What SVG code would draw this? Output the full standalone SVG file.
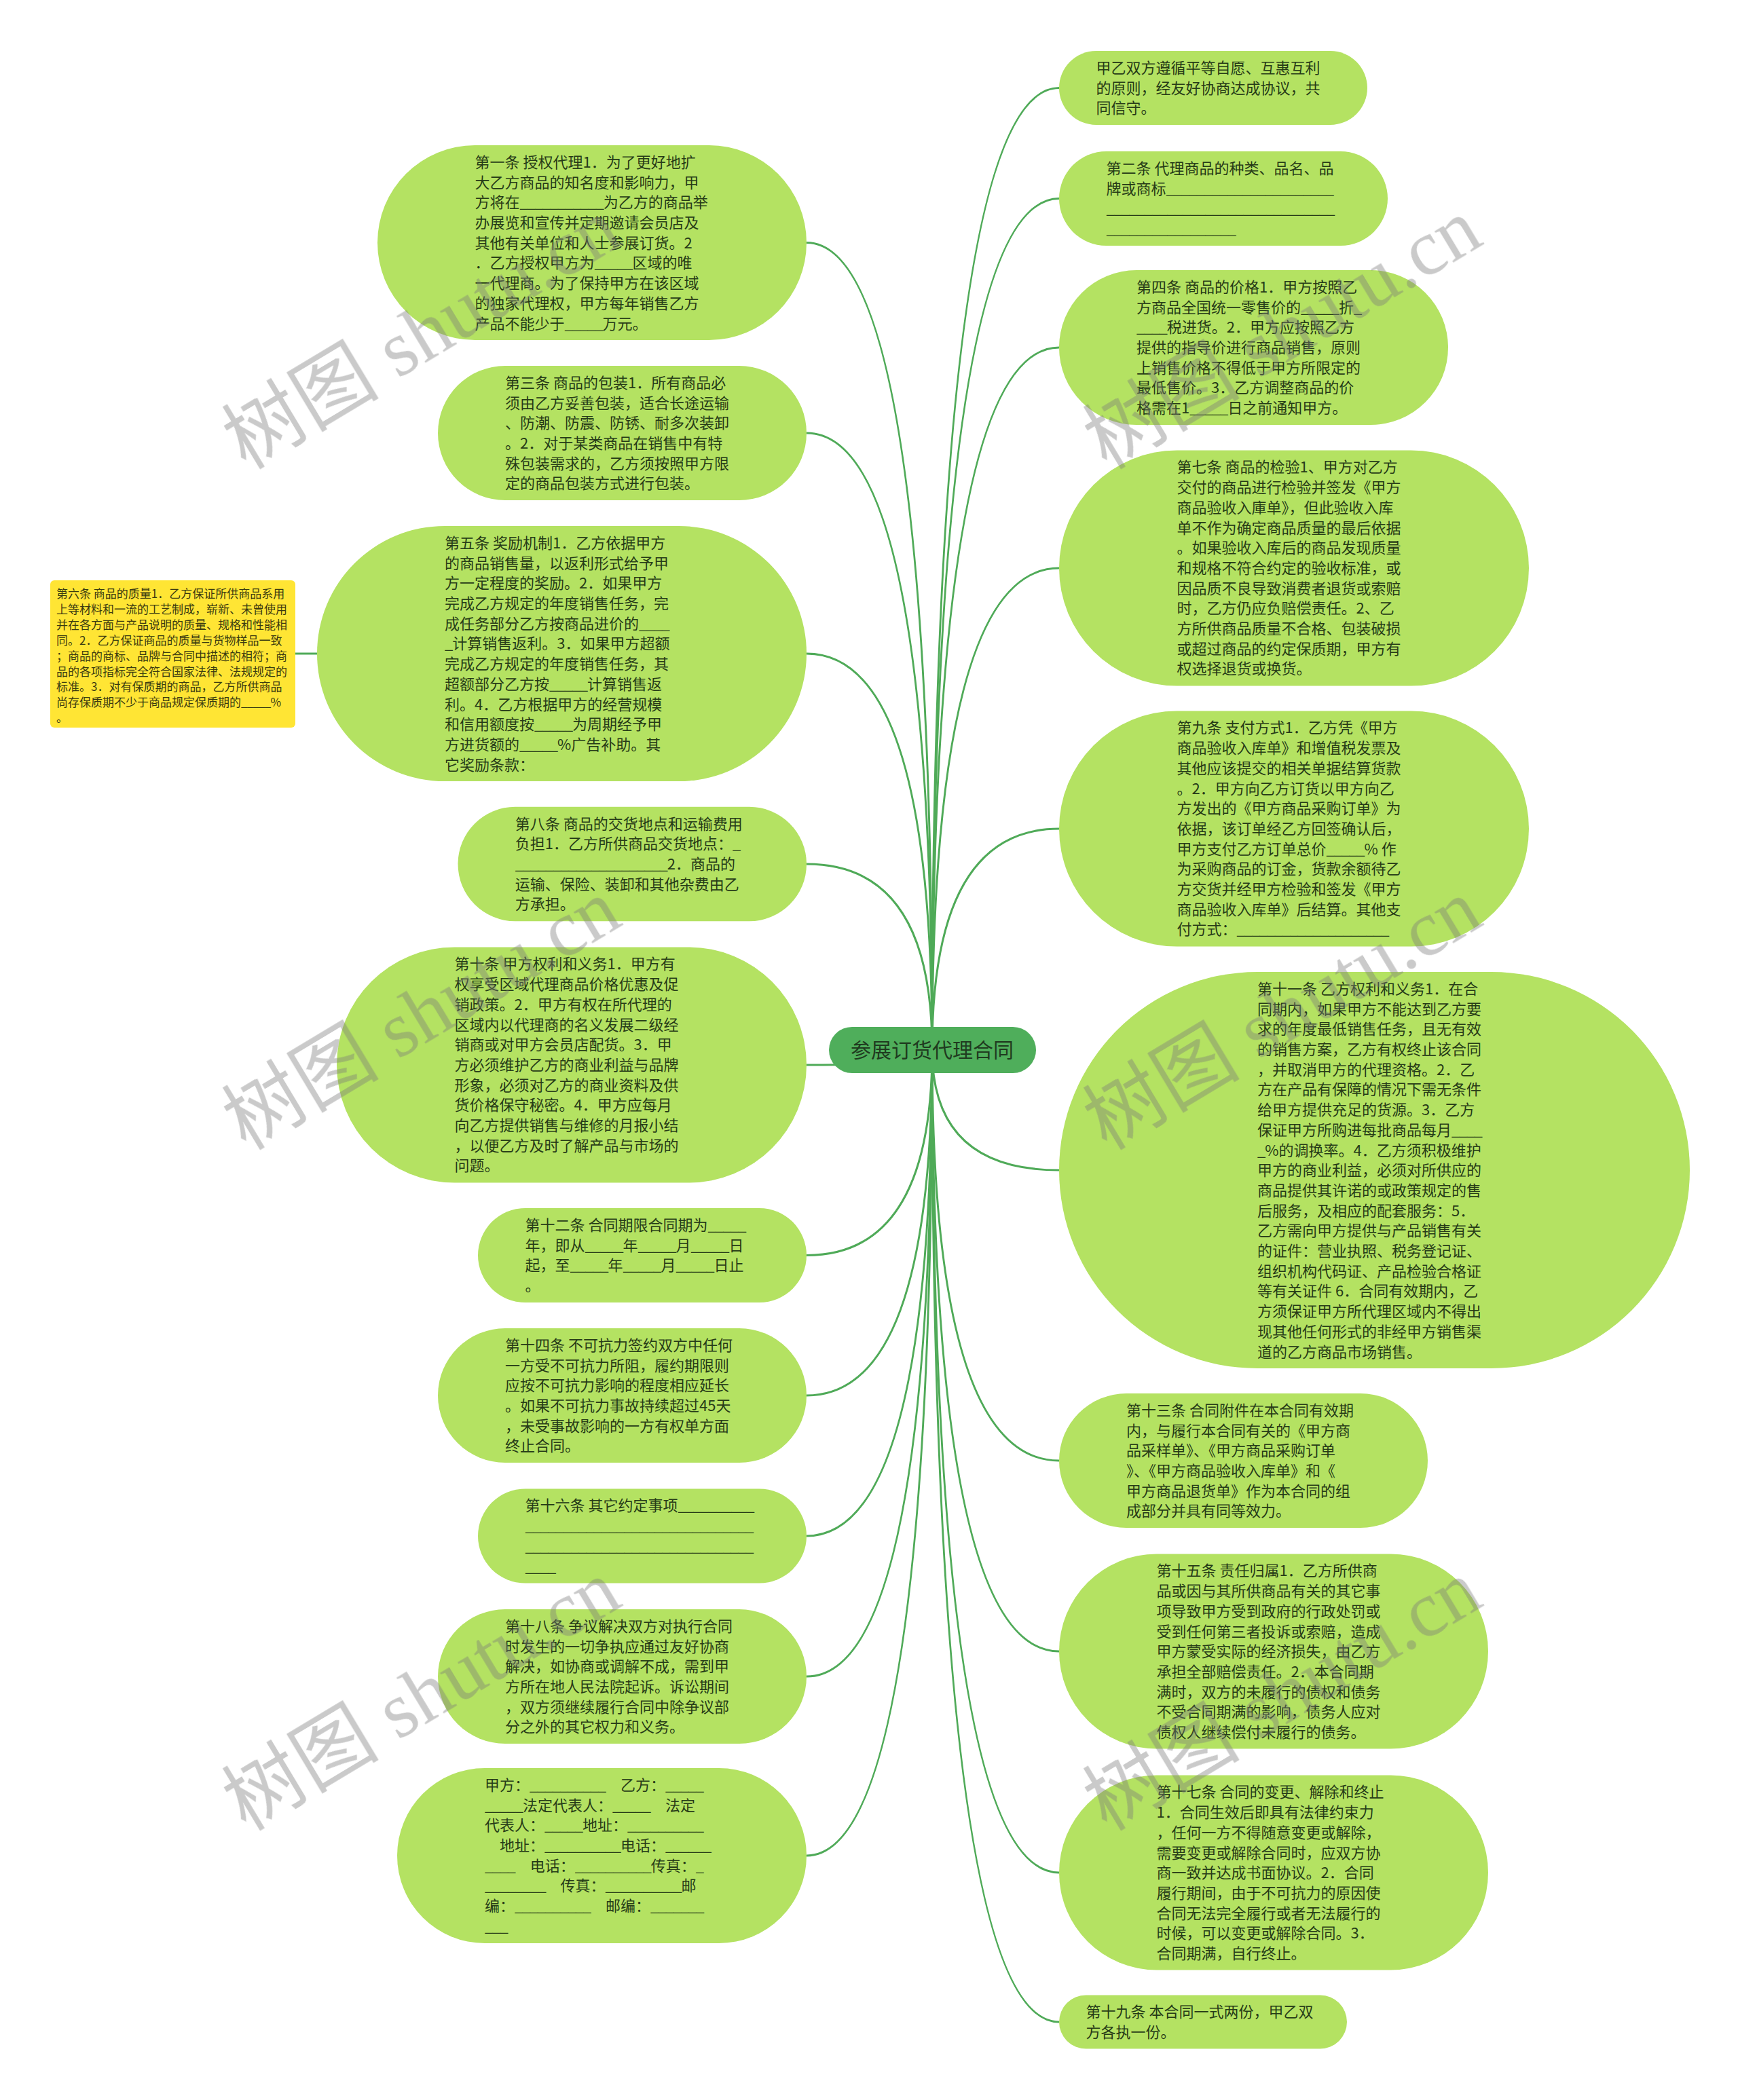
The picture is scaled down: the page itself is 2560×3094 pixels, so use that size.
<svg xmlns="http://www.w3.org/2000/svg" width="2560" height="3094" viewBox="0 0 2560 3094">
<defs>
<style>
.bg{fill:#ffffff}
.n{fill:#b4e262}
.y{fill:#ffe534}
.c{fill:#4fae5b}
.t{font-family:"Noto Sans CJK SC","Noto Sans",sans-serif;font-size:22px;fill:#263b17}
.ty{font-family:"Noto Sans CJK SC","Noto Sans",sans-serif;font-size:17px;fill:#3a3a10}
.tc{font-family:"Noto Sans CJK SC","Noto Sans",sans-serif;font-size:30px;fill:#1f3a1f}
.u{letter-spacing:-1.1px}
.uy{letter-spacing:-0.8px}
.e{fill:none;stroke:#4faa58;stroke-width:3}
.wm{font-size:116px;fill:#7a7a7a;opacity:0.4}
.wc{font-family:"Noto Sans CJK SC",sans-serif}
.ws{font-family:"Liberation Serif",serif}
</style>
</defs>
<rect class="bg" x="0" y="0" width="2560" height="3094"/>

<g id="connectors">
<path class="e" d="M1373 1547 Q1373 357.5 1188 357.5"/>
<path class="e" d="M1373 1547 Q1373 638 1188 638"/>
<path class="e" d="M1373 1547 Q1373 963 1188 963"/>
<path class="e" d="M1373 1547 Q1373 1273 1188 1273"/>
<path class="e" d="M1373 1547 Q1373 1569 1188 1569"/>
<path class="e" d="M1373 1547 Q1373 1849.5 1188 1849.5"/>
<path class="e" d="M1373 1547 Q1373 2056 1188 2056"/>
<path class="e" d="M1373 1547 Q1373 2263 1188 2263"/>
<path class="e" d="M1373 1547 Q1373 2470 1188 2470"/>
<path class="e" d="M1373 1547 Q1373 2734 1188 2734"/>
<path class="e" d="M1373 1547 Q1373 129.5 1560 129.5"/>
<path class="e" d="M1373 1547 Q1373 292.5 1560 292.5"/>
<path class="e" d="M1373 1547 Q1373 512 1560 512"/>
<path class="e" d="M1373 1547 Q1373 837 1560 837"/>
<path class="e" d="M1373 1547 Q1373 1221 1560 1221"/>
<path class="e" d="M1373 1547 Q1373 1724 1560 1724"/>
<path class="e" d="M1373 1547 Q1373 2152 1560 2152"/>
<path class="e" d="M1373 1547 Q1373 2433 1560 2433"/>
<path class="e" d="M1373 1547 Q1373 2759 1560 2759"/>
<path class="e" d="M1373 1547 Q1373 2979 1560 2979"/>
<path class="e" d="M435 963 L467 963"/>
</g>

<g id="root">
<rect class="c" x="1221" y="1513" width="305" height="68" rx="34"/>
<text class="tc" x="1373" y="1558" text-anchor="middle">参展订货代理合同</text>
</g>

<g id="n-l1">
<rect class="n" x="556" y="214" width="632" height="287" rx="143.5"/>
<text class="t" x="699.5" y="246.9"><tspan x="699.5" dy="0">第一条 授权代理1．为了更好地扩</tspan><tspan x="699.5" dy="29.7">大乙方商品的知名度和影响力，甲</tspan><tspan x="699.5" dy="29.7">方将在<tspan class="u">___________</tspan>为乙方的商品举</tspan><tspan x="699.5" dy="29.7">办展览和宣传并定期邀请会员店及</tspan><tspan x="699.5" dy="29.7">其他有关单位和人士参展订货。2</tspan><tspan x="699.5" dy="29.7">．乙方授权甲方为<tspan class="u">_____</tspan>区域的唯</tspan><tspan x="699.5" dy="29.7">一代理商。为了保持甲方在该区域</tspan><tspan x="699.5" dy="29.7">的独家代理权，甲方每年销售乙方</tspan><tspan x="699.5" dy="29.7">产品不能少于<tspan class="u">_____</tspan>万元。</tspan></text>
</g>

<g id="n-l2">
<rect class="n" x="645" y="539" width="543" height="198" rx="99"/>
<text class="t" x="744" y="571.9"><tspan x="744" dy="0">第三条 商品的包装1．所有商品必</tspan><tspan x="744" dy="29.7">须由乙方妥善包装，适合长途运输</tspan><tspan x="744" dy="29.7">、防潮、防震、防锈、耐多次装卸</tspan><tspan x="744" dy="29.7">。2．对于某类商品在销售中有特</tspan><tspan x="744" dy="29.7">殊包装需求的，乙方须按照甲方限</tspan><tspan x="744" dy="29.7">定的商品包装方式进行包装。</tspan></text>
</g>

<g id="n-l3">
<rect class="n" x="467" y="775" width="721" height="376" rx="188"/>
<text class="t" x="655" y="807.9"><tspan x="655" dy="0">第五条 奖励机制1．乙方依据甲方</tspan><tspan x="655" dy="29.7">的商品销售量，以返利形式给予甲</tspan><tspan x="655" dy="29.7">方一定程度的奖励。2．如果甲方</tspan><tspan x="655" dy="29.7">完成乙方规定的年度销售任务，完</tspan><tspan x="655" dy="29.7">成任务部分乙方按商品进价的<tspan class="u">____</tspan></tspan><tspan x="655" dy="29.7"><tspan class="u">_</tspan>计算销售返利。3．如果甲方超额</tspan><tspan x="655" dy="29.7">完成乙方规定的年度销售任务，其</tspan><tspan x="655" dy="29.7">超额部分乙方按<tspan class="u">_____</tspan>计算销售返</tspan><tspan x="655" dy="29.7">利。4．乙方根据甲方的经营规模</tspan><tspan x="655" dy="29.7">和信用额度按<tspan class="u">_____</tspan>为周期经予甲</tspan><tspan x="655" dy="29.7">方进货额的<tspan class="u">_____</tspan>%广告补助。其</tspan><tspan x="655" dy="29.7">它奖励条款：</tspan></text>
</g>

<g id="n-l3a">
<rect class="y" x="74" y="855" width="361" height="217" rx="6"/>
<text class="ty" x="83" y="881"><tspan x="83" dy="0">第六条 商品的质量1．乙方保证所供商品系用</tspan><tspan x="83" dy="22.9">上等材料和一流的工艺制成，崭新、未曾使用</tspan><tspan x="83" dy="22.9">并在各方面与产品说明的质量、规格和性能相</tspan><tspan x="83" dy="22.9">同。2．乙方保证商品的质量与货物样品一致</tspan><tspan x="83" dy="22.9">；商品的商标、品牌与合同中描述的相符；商</tspan><tspan x="83" dy="22.9">品的各项指标完全符合国家法律、法规规定的</tspan><tspan x="83" dy="22.9">标准。3．对有保质期的商品，乙方所供商品</tspan><tspan x="83" dy="22.9">尚存保质期不少于商品规定保质期的<tspan class="uy">_____</tspan>%</tspan><tspan x="83" dy="22.9">。</tspan></text>
</g>

<g id="n-l4">
<rect class="n" x="674.5" y="1188.75" width="513.5" height="168.5" rx="84.25"/>
<text class="t" x="758.75" y="1221.6"><tspan x="758.75" dy="0">第八条 商品的交货地点和运输费用</tspan><tspan x="758.75" dy="29.7">负担1．乙方所供商品交货地点：<tspan class="u">_</tspan></tspan><tspan x="758.75" dy="29.7"><tspan class="u">____________________</tspan>2．商品的</tspan><tspan x="758.75" dy="29.7">运输、保险、装卸和其他杂费由乙</tspan><tspan x="758.75" dy="29.7">方承担。</tspan></text>
</g>

<g id="n-l5">
<rect class="n" x="496" y="1395.5" width="692" height="347" rx="173.5"/>
<text class="t" x="669.5" y="1428.4"><tspan x="669.5" dy="0">第十条 甲方权利和义务1．甲方有</tspan><tspan x="669.5" dy="29.7">权享受区域代理商品价格优惠及促</tspan><tspan x="669.5" dy="29.7">销政策。2．甲方有权在所代理的</tspan><tspan x="669.5" dy="29.7">区域内以代理商的名义发展二级经</tspan><tspan x="669.5" dy="29.7">销商或对甲方会员店配货。3．甲</tspan><tspan x="669.5" dy="29.7">方必须维护乙方的商业利益与品牌</tspan><tspan x="669.5" dy="29.7">形象，必须对乙方的商业资料及供</tspan><tspan x="669.5" dy="29.7">货价格保守秘密。4．甲方应每月</tspan><tspan x="669.5" dy="29.7">向乙方提供销售与维修的月报小结</tspan><tspan x="669.5" dy="29.7">，以便乙方及时了解产品与市场的</tspan><tspan x="669.5" dy="29.7">问题。</tspan></text>
</g>

<g id="n-l6">
<rect class="n" x="704" y="1780" width="484" height="139" rx="69.5"/>
<text class="t" x="773.5" y="1812.9"><tspan x="773.5" dy="0">第十二条 合同期限合同期为<tspan class="u">_____</tspan></tspan><tspan x="773.5" dy="29.7">年，即从<tspan class="u">_____</tspan>年<tspan class="u">_____</tspan>月<tspan class="u">_____</tspan>日</tspan><tspan x="773.5" dy="29.7">起，至<tspan class="u">_____</tspan>年<tspan class="u">_____</tspan>月<tspan class="u">_____</tspan>日止</tspan><tspan x="773.5" dy="29.7">。</tspan></text>
</g>

<g id="n-l7">
<rect class="n" x="645" y="1957" width="543" height="198" rx="99"/>
<text class="t" x="744" y="1989.9"><tspan x="744" dy="0">第十四条 不可抗力签约双方中任何</tspan><tspan x="744" dy="29.7">一方受不可抗力所阻，履约期限则</tspan><tspan x="744" dy="29.7">应按不可抗力影响的程度相应延长</tspan><tspan x="744" dy="29.7">。如果不可抗力事故持续超过45天</tspan><tspan x="744" dy="29.7">，未受事故影响的一方有权单方面</tspan><tspan x="744" dy="29.7">终止合同。</tspan></text>
</g>

<g id="n-l8">
<rect class="n" x="704" y="2193.5" width="484" height="139" rx="69.5"/>
<text class="t" x="773.5" y="2226.4"><tspan x="773.5" dy="0">第十六条 其它约定事项<tspan class="u">__________</tspan></tspan><tspan x="773.5" dy="29.7"><tspan class="u">______________________________</tspan></tspan><tspan x="773.5" dy="29.7"><tspan class="u">______________________________</tspan></tspan><tspan x="773.5" dy="29.7"><tspan class="u">____</tspan></tspan></text>
</g>

<g id="n-l9">
<rect class="n" x="645" y="2371" width="543" height="198" rx="99"/>
<text class="t" x="744" y="2403.9"><tspan x="744" dy="0">第十八条 争议解决双方对执行合同</tspan><tspan x="744" dy="29.7">时发生的一切争执应通过友好协商</tspan><tspan x="744" dy="29.7">解决，如协商或调解不成，需到甲</tspan><tspan x="744" dy="29.7">方所在地人民法院起诉。诉讼期间</tspan><tspan x="744" dy="29.7">，双方须继续履行合同中除争议部</tspan><tspan x="744" dy="29.7">分之外的其它权力和义务。</tspan></text>
</g>

<g id="n-l10">
<rect class="n" x="585" y="2605" width="603" height="258" rx="129"/>
<text class="t" x="714" y="2637.9"><tspan x="714" dy="0">甲方：<tspan class="u">__________</tspan>　乙方：<tspan class="u">_____</tspan></tspan><tspan x="714" dy="29.7"><tspan class="u">_____</tspan>法定代表人：<tspan class="u">_____</tspan>　法定</tspan><tspan x="714" dy="29.7">代表人：<tspan class="u">_____</tspan>地址：<tspan class="u">__________</tspan></tspan><tspan x="714" dy="29.7">　地址：<tspan class="u">__________</tspan>电话：<tspan class="u">______</tspan></tspan><tspan x="714" dy="29.7"><tspan class="u">____</tspan>　电话：<tspan class="u">__________</tspan>传真：<tspan class="u">_</tspan></tspan><tspan x="714" dy="29.7"><tspan class="u">________</tspan>　传真：<tspan class="u">__________</tspan>邮</tspan><tspan x="714" dy="29.7">编：<tspan class="u">__________</tspan>　邮编：<tspan class="u">_______</tspan></tspan><tspan x="714" dy="29.7"><tspan class="u">___</tspan></tspan></text>
</g>

<g id="n-r1">
<rect class="n" x="1560" y="75" width="454" height="109" rx="54.5"/>
<text class="t" x="1614.5" y="107.9"><tspan x="1614.5" dy="0">甲乙双方遵循平等自愿、互惠互利</tspan><tspan x="1614.5" dy="29.7">的原则，经友好协商达成协议，共</tspan><tspan x="1614.5" dy="29.7">同信守。</tspan></text>
</g>

<g id="n-r2">
<rect class="n" x="1560" y="223" width="484" height="139" rx="69.5"/>
<text class="t" x="1629.5" y="255.9"><tspan x="1629.5" dy="0">第二条 代理商品的种类、品名、品</tspan><tspan x="1629.5" dy="29.7">牌或商标<tspan class="u">______________________</tspan></tspan><tspan x="1629.5" dy="29.7"><tspan class="u">______________________________</tspan></tspan><tspan x="1629.5" dy="29.7"><tspan class="u">_________________</tspan></tspan></text>
</g>

<g id="n-r3">
<rect class="n" x="1560" y="398" width="573" height="228" rx="114"/>
<text class="t" x="1674" y="430.9"><tspan x="1674" dy="0">第四条 商品的价格1．甲方按照乙</tspan><tspan x="1674" dy="29.7">方商品全国统一零售价的<tspan class="u">_____</tspan>折<tspan class="u">_</tspan></tspan><tspan x="1674" dy="29.7"><tspan class="u">____</tspan>税进货。2．甲方应按照乙方</tspan><tspan x="1674" dy="29.7">提供的指导价进行商品销售，原则</tspan><tspan x="1674" dy="29.7">上销售价格不得低于甲方所限定的</tspan><tspan x="1674" dy="29.7">最低售价。3．乙方调整商品的价</tspan><tspan x="1674" dy="29.7">格需在1<tspan class="u">_____</tspan>日之前通知甲方。</tspan></text>
</g>

<g id="n-r4">
<rect class="n" x="1560" y="663.5" width="692" height="347" rx="173.5"/>
<text class="t" x="1733.5" y="696.4"><tspan x="1733.5" dy="0">第七条 商品的检验1、甲方对乙方</tspan><tspan x="1733.5" dy="29.7">交付的商品进行检验并签发《甲方</tspan><tspan x="1733.5" dy="29.7">商品验收入庫单》，但此验收入库</tspan><tspan x="1733.5" dy="29.7">单不作为确定商品质量的最后依据</tspan><tspan x="1733.5" dy="29.7">。如果验收入库后的商品发现质量</tspan><tspan x="1733.5" dy="29.7">和规格不符合约定的验收标准，或</tspan><tspan x="1733.5" dy="29.7">因品质不良导致消费者退货或索赔</tspan><tspan x="1733.5" dy="29.7">时，乙方仍应负赔偿责任。2、乙</tspan><tspan x="1733.5" dy="29.7">方所供商品质量不合格、包装破损</tspan><tspan x="1733.5" dy="29.7">或超过商品的约定保质期，甲方有</tspan><tspan x="1733.5" dy="29.7">权选择退货或换货。</tspan></text>
</g>

<g id="n-r5">
<rect class="n" x="1560" y="1047.5" width="692" height="347" rx="173.5"/>
<text class="t" x="1733.5" y="1080.4"><tspan x="1733.5" dy="0">第九条 支付方式1．乙方凭《甲方</tspan><tspan x="1733.5" dy="29.7">商品验收入库单》和增值税发票及</tspan><tspan x="1733.5" dy="29.7">其他应该提交的相关单据结算货款</tspan><tspan x="1733.5" dy="29.7">。2．甲方向乙方订货以甲方向乙</tspan><tspan x="1733.5" dy="29.7">方发出的《甲方商品采购订单》为</tspan><tspan x="1733.5" dy="29.7">依据，该订单经乙方回签确认后，</tspan><tspan x="1733.5" dy="29.7">甲方支付乙方订单总价<tspan class="u">_____</tspan>% 作</tspan><tspan x="1733.5" dy="29.7">为采购商品的订金，货款余额待乙</tspan><tspan x="1733.5" dy="29.7">方交货并经甲方检验和签发《甲方</tspan><tspan x="1733.5" dy="29.7">商品验收入库单》后结算。其他支</tspan><tspan x="1733.5" dy="29.7">付方式：<tspan class="u">____________________</tspan></tspan></text>
</g>

<g id="n-r6">
<rect class="n" x="1560" y="1432" width="929" height="584" rx="292"/>
<text class="t" x="1852" y="1464.9"><tspan x="1852" dy="0">第十一条 乙方权利和义务1．在合</tspan><tspan x="1852" dy="29.7">同期内，如果甲方不能达到乙方要</tspan><tspan x="1852" dy="29.7">求的年度最低销售任务，且无有效</tspan><tspan x="1852" dy="29.7">的销售方案，乙方有权终止该合同</tspan><tspan x="1852" dy="29.7">，并取消甲方的代理资格。2．乙</tspan><tspan x="1852" dy="29.7">方在产品有保障的情况下需无条件</tspan><tspan x="1852" dy="29.7">给甲方提供充足的货源。3．乙方</tspan><tspan x="1852" dy="29.7">保证甲方所购进每批商品每月<tspan class="u">____</tspan></tspan><tspan x="1852" dy="29.7"><tspan class="u">_</tspan>%的调换率。4．乙方须积极维护</tspan><tspan x="1852" dy="29.7">甲方的商业利益，必须对所供应的</tspan><tspan x="1852" dy="29.7">商品提供其许诺的或政策规定的售</tspan><tspan x="1852" dy="29.7">后服务，及相应的配套服务：5．</tspan><tspan x="1852" dy="29.7">乙方需向甲方提供与产品销售有关</tspan><tspan x="1852" dy="29.7">的证件：营业执照、税务登记证、</tspan><tspan x="1852" dy="29.7">组织机构代码证、产品检验合格证</tspan><tspan x="1852" dy="29.7">等有关证件 6．合同有效期内，乙</tspan><tspan x="1852" dy="29.7">方须保证甲方所代理区域内不得出</tspan><tspan x="1852" dy="29.7">现其他任何形式的非经甲方销售渠</tspan><tspan x="1852" dy="29.7">道的乙方商品市场销售。</tspan></text>
</g>

<g id="n-r7">
<rect class="n" x="1560" y="2053" width="543" height="198" rx="99"/>
<text class="t" x="1659" y="2085.9"><tspan x="1659" dy="0">第十三条 合同附件在本合同有效期</tspan><tspan x="1659" dy="29.7">内，与履行本合同有关的《甲方商</tspan><tspan x="1659" dy="29.7">品采样单》、《甲方商品采购订单</tspan><tspan x="1659" dy="29.7">》、《甲方商品验收入库单》和《</tspan><tspan x="1659" dy="29.7">甲方商品退货单》作为本合同的组</tspan><tspan x="1659" dy="29.7">成部分并具有同等效力。</tspan></text>
</g>

<g id="n-r8">
<rect class="n" x="1560" y="2289.5" width="632" height="287" rx="143.5"/>
<text class="t" x="1703.5" y="2322.4"><tspan x="1703.5" dy="0">第十五条 责任归属1．乙方所供商</tspan><tspan x="1703.5" dy="29.7">品或因与其所供商品有关的其它事</tspan><tspan x="1703.5" dy="29.7">项导致甲方受到政府的行政处罚或</tspan><tspan x="1703.5" dy="29.7">受到任何第三者投诉或索赔，造成</tspan><tspan x="1703.5" dy="29.7">甲方蒙受实际的经济损失，由乙方</tspan><tspan x="1703.5" dy="29.7">承担全部赔偿责任。2．本合同期</tspan><tspan x="1703.5" dy="29.7">满时，双方的未履行的债权和债务</tspan><tspan x="1703.5" dy="29.7">不受合同期满的影响，债务人应对</tspan><tspan x="1703.5" dy="29.7">债权人继续偿付未履行的债务。</tspan></text>
</g>

<g id="n-r9">
<rect class="n" x="1560" y="2615.5" width="632" height="287" rx="143.5"/>
<text class="t" x="1703.5" y="2648.4"><tspan x="1703.5" dy="0">第十七条 合同的变更、解除和终止</tspan><tspan x="1703.5" dy="29.7">1．合同生效后即具有法律约束力</tspan><tspan x="1703.5" dy="29.7">，任何一方不得随意变更或解除，</tspan><tspan x="1703.5" dy="29.7">需要变更或解除合同时，应双方协</tspan><tspan x="1703.5" dy="29.7">商一致并达成书面协议。2．合同</tspan><tspan x="1703.5" dy="29.7">履行期间，由于不可抗力的原因使</tspan><tspan x="1703.5" dy="29.7">合同无法完全履行或者无法履行的</tspan><tspan x="1703.5" dy="29.7">时候，可以变更或解除合同。3．</tspan><tspan x="1703.5" dy="29.7">合同期满，自行终止。</tspan></text>
</g>

<g id="n-r10">
<rect class="n" x="1560" y="2939.5" width="424" height="79" rx="39.5"/>
<text class="t" x="1599.5" y="2972.4"><tspan x="1599.5" dy="0">第十九条 本合同一式两份，甲乙双</tspan><tspan x="1599.5" dy="29.7">方各执一份。</tspan></text>
</g>

<g id="watermark" class="wm">
<text transform="translate(362 693) rotate(-31)"><tspan class="wc">树图</tspan><tspan class="ws"> shutu.cn</tspan></text>
<text transform="translate(362 1696) rotate(-31)"><tspan class="wc">树图</tspan><tspan class="ws"> shutu.cn</tspan></text>
<text transform="translate(362 2699) rotate(-31)"><tspan class="wc">树图</tspan><tspan class="ws"> shutu.cn</tspan></text>
<text transform="translate(1630 693) rotate(-31)"><tspan class="wc">树图</tspan><tspan class="ws"> shutu.cn</tspan></text>
<text transform="translate(1630 1696) rotate(-31)"><tspan class="wc">树图</tspan><tspan class="ws"> shutu.cn</tspan></text>
<text transform="translate(1630 2699) rotate(-31)"><tspan class="wc">树图</tspan><tspan class="ws"> shutu.cn</tspan></text>
</g>
</svg>
